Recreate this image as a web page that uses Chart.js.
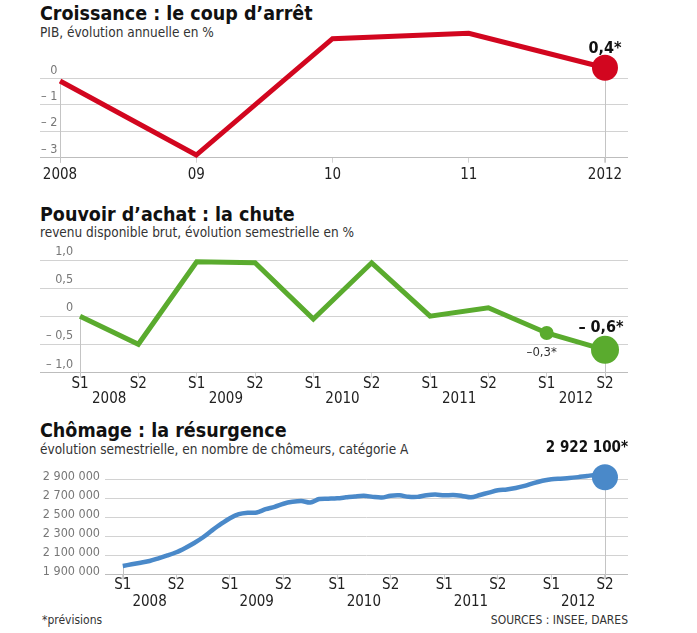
<!DOCTYPE html>
<html lang="fr">
<head>
<meta charset="utf-8">
<title>Croissance, pouvoir d'achat, chômage</title>
<script src="https://cdn.jsdelivr.net/npm/chart.js@4.4.1/dist/chart.umd.min.js"></script>
<style>
    html, body { margin: 0; padding: 0; background: #fff; }
    body {
        width: 697px;
        height: 633px;
        position: relative;
        overflow: hidden;
        font-family: "Liberation Sans Narrow", "DejaVu Sans Condensed", "Roboto", sans-serif;
    }
    .title {
        position: absolute;
        left: 40px;
        font-size: 19.5px;
        font-weight: bold;
        line-height: 1;
        color: #111;
        white-space: nowrap;
    }
    .sub {
        position: absolute;
        left: 40px;
        font-size: 13.5px;
        line-height: 1;
        color: #333;
        white-space: nowrap;
    }
    canvas { position: absolute; left: 0; }
    .note {
        position: absolute;
        top: 614px;
        font-size: 12px;
        line-height: 1;
        color: #333;
        white-space: nowrap;
    }
</style>
</head>
<body>
    <div class="title" style="top:4px">Croissance : le coup d’arrêt</div>
    <div class="sub" style="top:26px">PIB, évolution annuelle en %</div>
    <canvas id="pibChart" width="697" height="195" style="top:0"></canvas>

    <div class="title" style="top:205px">Pouvoir d’achat : la chute</div>
    <div class="sub" style="top:226px">revenu disponible brut, évolution semestrielle en %</div>
    <canvas id="rdbChart" width="697" height="215" style="top:195px"></canvas>

    <div class="title" style="top:421px">Chômage : la résurgence</div>
    <div class="sub" style="top:443px">évolution semestrielle, en nombre de chômeurs, catégorie A</div>
    <canvas id="chomChart" width="697" height="200" style="top:410px"></canvas>

    <div class="note" style="left:42px">*prévisions</div>
    <div class="note" style="right:69px">SOURCES : INSEE, DARES</div>

<script>
// --- Croissance : PIB, évolution annuelle en %
const pibYears = ['2008', '09', '10', '11', '2012'];
const pibValues = [-0.1, -2.9, 1.5, 1.7, 0.4];

// --- Pouvoir d'achat : évolution semestrielle en % (S1 2008 -> S2 2012)
const halfLabels = ['S1', 'S2'];
const periodYears = ['2008', '2009', '2010', '2011', '2012'];
const rdbValues = [0.0, -0.5, 0.97, 0.95, -0.05, 0.95, 0.0, 0.15, -0.3, -0.6];

// --- Chômage : catégorie A, mensuel de janvier 2008 à juillet 2012
const chomValues = [
    1988000, 2005000, 2022000, 2040000, 2068000, 2098000,
    2132000, 2178000, 2230000, 2290000, 2362000, 2430000,
    2490000, 2533000, 2548000, 2550000, 2585000, 2610000,
    2643000, 2663000, 2672000, 2656000, 2692000, 2696000,
    2700000, 2710000, 2720000, 2727000, 2715000, 2708000,
    2727000, 2731000, 2716000, 2715000, 2733000, 2740000,
    2731000, 2735000, 2725000, 2710000, 2735000, 2760000,
    2785000, 2793000, 2808000, 2830000, 2860000, 2885000,
    2900000, 2907000, 2913000, 2923000, 2935000, 2945000,
    2922100
];
const chomTicks = [1900000, 2100000, 2300000, 2500000, 2700000, 2900000];

const FONT = '"Liberation Sans Narrow", "DejaVu Sans Condensed", "Roboto", sans-serif';
const RED = '#d2061f';
const GREEN = '#5aab2e';
const BLUE = '#4a89c9';
const GRID = '#d2d2d2';

Chart.defaults.font.family = FONT;
Chart.defaults.animation = false;

function frNumber(v, decimals) {
    const s = Math.abs(v).toFixed(decimals).replace('.', ',');
    return (v < 0 ? '– ' : '') + s;
}

function frThousands(v) {
    return String(Math.round(v)).replace(/\B(?=(\d{3})+(?!\d))/g, ' ');
}

// Drop lines under chosen points and value notes beside them
function markPlugin(drops, notes) {
    return {
        id: 'marks',
        beforeDatasetsDraw(chart) {
            const {ctx, chartArea} = chart;
            const pts = chart.getDatasetMeta(0).data;
            ctx.save();
            ctx.strokeStyle = '#c4c4c4';
            ctx.lineWidth = 1;
            drops.forEach(i => {
                const x = Math.round(pts[i].x) + 0.5;
                ctx.beginPath();
                ctx.moveTo(x, pts[i].y);
                ctx.lineTo(x, chartArea.bottom + 5);
                ctx.stroke();
            });
            ctx.restore();
        },
        afterDatasetsDraw(chart) {
            const {ctx} = chart;
            const pts = chart.getDatasetMeta(0).data;
            notes.forEach(n => {
                const p = pts[n.index];
                ctx.save();
                ctx.font = n.font;
                ctx.fillStyle = n.color || '#111';
                ctx.textAlign = n.align || 'center';
                ctx.textBaseline = 'middle';
                ctx.fillText(n.text, p.x + n.dx, p.y + n.dy);
                ctx.restore();
            });
        }
    };
}

function xTickGrid(isMark) {
    return {
        drawOnChartArea: false,
        drawTicks: true,
        tickLength: 5,
        color: (c) => (c.tick && isMark(c.tick.value)) ? GRID : 'rgba(0,0,0,0)'
    };
}

function yGrid(minValue) {
    return {
        drawTicks: false,
        color: (c) => (c.tick && c.tick.value === minValue) ? '#bdbdbd' : GRID,
        lineWidth: 1
    };
}

// ---------- Croissance ----------
new Chart(document.getElementById('pibChart'), {
    type: 'line',
    data: {
        datasets: [{
            data: pibValues.map((v, i) => ({x: i, y: v})),
            borderColor: RED,
            backgroundColor: RED,
            borderWidth: 5,
            borderJoinStyle: 'miter',
            pointRadius: (c) => c.dataIndex === pibValues.length - 1 ? 13 : 0,
            pointHoverRadius: 0,
            pointBorderWidth: 0,
            clip: false
        }]
    },
    options: {
        responsive: false,
        layout: {padding: {left: 40, right: 69, top: 25.4, bottom: 0}},
        plugins: {legend: {display: false}, tooltip: {enabled: false}},
        scales: {
            x: {
                type: 'linear',
                min: -0.147,
                max: 4.169,
                afterBuildTicks: (s) => { s.ticks = pibYears.map((_, i) => ({value: i})); },
                afterFit: (s) => { s.height = 37.3; },
                border: {display: false},
                grid: xTickGrid(() => true),
                ticks: {
                    autoSkip: false,
                    maxRotation: 0,
                    padding: 3,
                    color: '#222',
                    font: {size: 15},
                    callback: (v) => pibYears[v]
                }
            },
            y: {
                min: -3,
                max: 2,
                afterBuildTicks: (s) => { s.ticks = s.ticks.filter(t => t.value <= 0); },
                afterFit: (s) => { s.width = 0; },
                border: {display: false},
                grid: yGrid(-3),
                ticks: {
                    stepSize: 1,
                    mirror: true,
                    crossAlign: 'far',
                    padding: 1,
                    labelOffset: -8,
                    color: '#777',
                    font: {size: 12.5},
                    callback: (v) => frNumber(v, 0)
                }
            }
        }
    },
    plugins: [markPlugin([0, pibValues.length - 1], [
        {index: pibValues.length - 1, text: frNumber(pibValues[4], 1) + '*', dx: 0, dy: -19, font: 'bold 16px ' + FONT}
    ])]
});

// ---------- Pouvoir d'achat ----------
const rdbTickValues = [];
for (let i = 0; i < rdbValues.length; i++) {
    rdbTickValues.push(i);
    if (i % 2 === 0) rdbTickValues.push(i + 0.5);
}

new Chart(document.getElementById('rdbChart'), {
    type: 'line',
    data: {
        datasets: [{
            data: rdbValues.map((v, i) => ({x: i, y: v})),
            borderColor: GREEN,
            backgroundColor: GREEN,
            borderWidth: 5,
            borderJoinStyle: 'miter',
            pointRadius: (c) => c.dataIndex === rdbValues.length - 1 ? 14 : (c.dataIndex === rdbValues.length - 2 ? 7 : 0),
            pointHoverRadius: 0,
            pointBorderWidth: 0,
            clip: false
        }]
    },
    options: {
        responsive: false,
        layout: {padding: {left: 40, right: 69, top: 65, bottom: 0}},
        plugins: {legend: {display: false}, tooltip: {enabled: false}},
        scales: {
            x: {
                type: 'linear',
                min: -0.686,
                max: 9.394,
                afterBuildTicks: (s) => { s.ticks = rdbTickValues.map(v => ({value: v})); },
                afterFit: (s) => { s.height = 37.7; },
                border: {display: false},
                grid: xTickGrid((v) => Number.isInteger(v)),
                ticks: {
                    autoSkip: false,
                    maxRotation: 0,
                    padding: 0,
                    color: '#222',
                    font: {size: 15, lineHeight: 0.95},
                    callback: (v) => Number.isInteger(v) ? halfLabels[v % 2] : ['', periodYears[Math.floor(v / 2)]]
                }
            },
            y: {
                min: -1,
                max: 1,
                afterFit: (s) => { s.width = 0; },
                border: {display: false},
                grid: yGrid(-1),
                ticks: {
                    stepSize: 0.5,
                    mirror: true,
                    crossAlign: 'far',
                    padding: 6,
                    labelOffset: -8,
                    color: '#777',
                    font: {size: 12.5},
                    callback: (v) => v === 0 ? '0' : frNumber(v, 1)
                }
            }
        }
    },
    plugins: [markPlugin([0, rdbValues.length - 1], [
        {index: rdbValues.length - 1, text: frNumber(rdbValues[9], 1) + '*', dx: -4, dy: -22, font: 'bold 16px ' + FONT},
        {index: rdbValues.length - 2, text: frNumber(rdbValues[8], 1).replace(' ', '') + '*', dx: -5, dy: 20, font: '13px ' + FONT, color: '#333'}
    ])]
});

// ---------- Chômage ----------
const chomTickValues = [];
for (let m = 0; m < chomValues.length; m += 3) {
    if (m % 6 === 0 || m % 12 === 3) chomTickValues.push(m);
}

new Chart(document.getElementById('chomChart'), {
    type: 'line',
    data: {
        datasets: [{
            data: chomValues.map((v, i) => ({x: i, y: v})),
            borderColor: BLUE,
            backgroundColor: BLUE,
            borderWidth: 4.5,
            tension: 0.3,
            pointRadius: (c) => c.dataIndex === chomValues.length - 1 ? 13 : 0,
            pointHoverRadius: 0,
            pointBorderWidth: 0,
            clip: false
        }]
    },
    options: {
        responsive: false,
        layout: {padding: {left: 0, right: 69, top: 59.8, bottom: 0}},
        plugins: {legend: {display: false}, tooltip: {enabled: false}},
        scales: {
            x: {
                type: 'linear',
                min: -1.99,
                max: 56.58,
                afterBuildTicks: (s) => { s.ticks = chomTickValues.map(v => ({value: v})); },
                afterFit: (s) => { s.height = 35.7; },
                border: {display: false},
                grid: xTickGrid((v) => v % 6 === 0),
                ticks: {
                    autoSkip: false,
                    maxRotation: 0,
                    padding: -2,
                    color: '#222',
                    font: {size: 15, lineHeight: 1.1},
                    callback: (v) => v % 6 === 0 ? halfLabels[(v / 6) % 2] : ['', periodYears[Math.floor(v / 12)]]
                }
            },
            y: {
                min: chomTicks[0],
                max: 3000000,
                afterBuildTicks: (s) => { s.ticks = chomTicks.map(v => ({value: v})); },
                afterFit: (s) => { s.width = 105; },
                border: {display: false},
                grid: yGrid(chomTicks[0]),
                ticks: {
                    padding: 5,
                    labelOffset: -3,
                    color: '#777',
                    font: {size: 12.5},
                    callback: (v) => frThousands(v)
                }
            }
        }
    },
    plugins: [markPlugin([0, chomValues.length - 1], [
        {index: chomValues.length - 1, text: frThousands(chomValues[54]) + '*', dx: 23, dy: -29, align: 'right', font: 'bold 15px ' + FONT}
    ])]
});
</script>
</body>
</html>
